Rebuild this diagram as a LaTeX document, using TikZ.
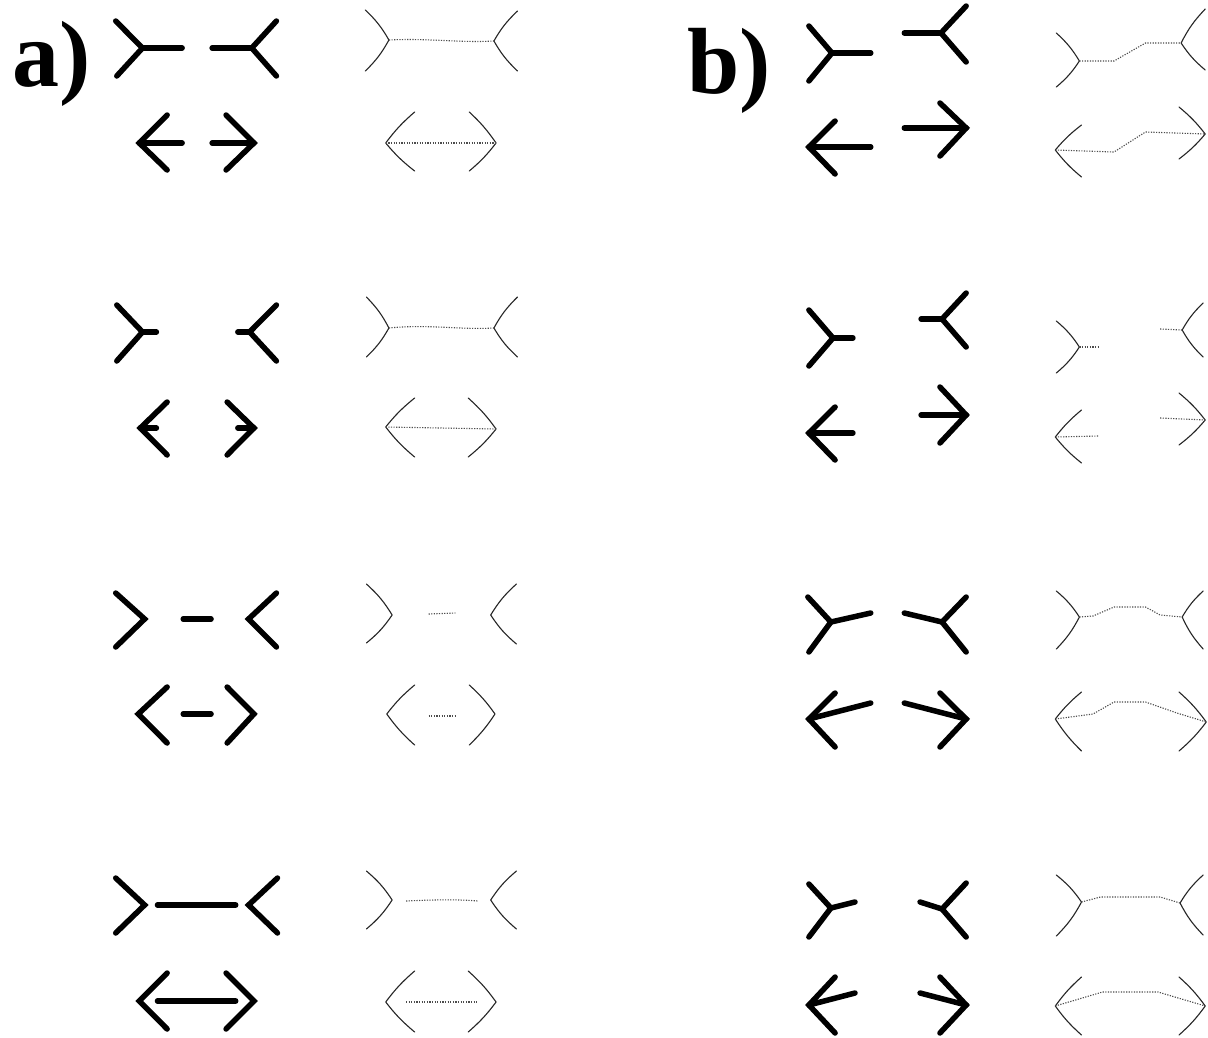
\documentclass[tikz,border=0pt]{standalone}
\usepackage{fontspec}
\setmainfont{Liberation Serif}
\begin{document}
\begin{tikzpicture}[x=1pt,y=-1pt,
  thk/.style={line width=5.5pt,black,line cap=round,line join=miter},
  thn/.style={line width=1.1pt,black!85,line cap=round,line join=round},
  dts/.style={line width=1.1pt,black!70,dash pattern=on 1.2pt off 1.4pt},
  lbl/.style={inner sep=0pt,anchor=base west,font=\fontsize{94}{94}\selectfont\bfseries}]
\useasboundingbox[fill=white] (0,0) rectangle (1208,1037);
% labels
\node[lbl] (la) at (12,86) {a)};
\node[lbl] (lb) at (687,93) {b)};
% ================= panel a =================
\begin{scope}[xscale=1.0714]
% row 1
\draw[thk] (108,21) -- (133,48) -- (109,76); \draw[thk] (133,48) -- (170,48);
\draw[thk] (258,21) -- (235,48) -- (258,76); \draw[thk] (198,48) -- (235,48);
\draw[thk] (156,115) -- (130,143) -- (156,170); \draw[thk] (130,143) -- (170,143);
\draw[thk] (211,115) -- (237,143) -- (211,170); \draw[thk] (198,143) -- (237,143);
\draw[thn] (341,10) to[bend left=8] (363,40) to[bend left=8] (341,71);
\draw[thn] (483,11) to[bend right=8] (461,41) to[bend right=8] (483,71);
\draw[dts] (363,40) .. controls (400,38) and (430,43) .. (461,41);
\draw[thn] (387,112) to[bend right=6] (360,143) to[bend right=6] (387,171);
\draw[thn] (438,112) to[bend left=6] (463,143) to[bend left=6] (438,171);
\draw[dts] (360,143) -- (463,143);
% row 2
\draw[thk] (109,305) -- (133,332) -- (109,361); \draw[thk] (133,332) -- (146,332);
\draw[thk] (258,305) -- (233,332) -- (258,361); \draw[thk] (222,332) -- (233,332);
\draw[thk] (156,402) -- (131,428) -- (156,455); \draw[thk] (131,428) -- (146,428);
\draw[thk] (212,402) -- (237,428) -- (212,455); \draw[thk] (222,428) -- (237,428);
\draw[thn] (342,297) to[bend left=8] (363,328) to[bend left=8] (342,357);
\draw[thn] (483,297) to[bend right=8] (461,328) to[bend right=8] (483,357);
\draw[dts] (363,328) .. controls (400,324) and (430,330) .. (461,328);
\draw[thn] (387,398) to[bend right=6] (360,427) to[bend right=6] (387,457);
\draw[thn] (437,398) to[bend left=6] (463,429) to[bend left=6] (437,457);
\draw[dts] (360,427) -- (463,429);
% row 3
\draw[thk] (108,593) -- (135,619) -- (108,647);
\draw[thk] (171,619) -- (197,619);
\draw[thk] (258,593) -- (232,619) -- (258,647);
\draw[thk] (156,687) -- (129,714) -- (156,743);
\draw[thk] (171,714) -- (197,714);
\draw[thk] (212,687) -- (237,714) -- (212,743);
\draw[thn] (342,584) to[bend left=8] (366,615) to[bend left=8] (342,643);
\draw[dts] (400,614) -- (425,613);
\draw[thn] (482,584) to[bend right=8] (458,615) to[bend right=8] (482,644);
\draw[thn] (387,685) to[bend right=6] (361,714) to[bend right=6] (387,745);
\draw[dts] (400,716) -- (426,716);
\draw[thn] (438,685) to[bend left=6] (462,714) to[bend left=6] (438,745);
% row 4
\draw[thk] (108,878) -- (135,905) -- (108,933);
\draw[thk] (147,905) -- (220,905);
\draw[thk] (259,878) -- (232,905) -- (259,933);
\draw[thk] (156,973) -- (130,1001) -- (156,1029);
\draw[thk] (147,1001) -- (220,1001);
\draw[thk] (211,973) -- (237,1001) -- (211,1029);
\draw[thn] (342,871) to[bend left=8] (366,900) to[bend left=8] (342,929);
\draw[dts] (379,901) .. controls (400,900) and (425,899) .. (446,901);
\draw[thn] (482,871) to[bend right=8] (458,900) to[bend right=8] (482,929);
\draw[thn] (387,971) to[bend right=6] (360,1002) to[bend right=6] (387,1032);
\draw[dts] (379,1002) -- (446,1002);
\draw[thn] (437,971) to[bend left=6] (463,1002) to[bend left=6] (437,1032);
\end{scope}
% ================= panel b =================
\begin{scope}[shift={(-32,0)},xscale=1.0485]
% row 1
\draw[thk] (802,26) -- (824,53) -- (802,81); \draw[thk] (824,53) -- (861,53);
\draw[thk] (952,6) -- (928,33) -- (952,62); \draw[thk] (893,33) -- (928,33);
\draw[thk] (827,121) -- (802,147) -- (827,174); \draw[thk] (802,147) -- (861,147);
\draw[thk] (927,103) -- (952,128) -- (927,156); \draw[thk] (893,128) -- (952,128);
\draw[thn] (1038,33) to[bend left=8] (1060,61) to[bend left=8] (1038,87);
\draw[thn] (1180,9) to[bend right=8] (1157,43) to[bend right=8] (1180,70);
\draw[dts] (1060,61) -- (1093,61) -- (1123,43) -- (1157,43);
\draw[thn] (1062,125) to[bend right=6] (1037,150) to[bend right=6] (1062,177);
\draw[thn] (1155,107) to[bend left=6] (1180,134) to[bend left=6] (1155,159);
\draw[dts] (1037,150) -- (1093,152) -- (1123,132) -- (1180,134);
% row 2
\draw[thk] (802,310) -- (825,338) -- (802,366); \draw[thk] (825,338) -- (844,338);
\draw[thk] (952,293) -- (929,319) -- (952,347); \draw[thk] (909,319) -- (929,319);
\draw[thk] (827,407) -- (802,433) -- (827,460); \draw[thk] (802,433) -- (844,433);
\draw[thk] (927,387) -- (952,415) -- (927,443); \draw[thk] (909,415) -- (952,415);
\draw[thn] (1038,321) to[bend left=8] (1060,347) to[bend left=8] (1038,373);
\draw[dts] (1060,347) -- (1078,347);
\draw[thn] (1178,303) to[bend right=8] (1158,330) to[bend right=8] (1178,357);
\draw[dts] (1137,329) -- (1158,330);
\draw[thn] (1062,410) to[bend right=6] (1037,437) to[bend right=6] (1062,463);
\draw[dts] (1037,437) -- (1078,436);
\draw[thn] (1155,393) to[bend left=6] (1180,420) to[bend left=6] (1155,445);
\draw[dts] (1137,418) -- (1180,420);
% row 3
\draw[thk] (801,597) -- (823,622) -- (802,652); \draw[thk] (823,622) -- (861,613);
\draw[thk] (952,597) -- (929,622) -- (952,652); \draw[thk] (893,613) -- (929,622);
\draw[thk] (827,693) -- (802,719) -- (827,747); \draw[thk] (802,719) -- (861,703);
\draw[thk] (927,693) -- (952,719) -- (927,747); \draw[thk] (893,703) -- (952,719);
\draw[thn] (1038,591) to[bend left=8] (1060,617) to[bend left=8] (1038,649);
\draw[thn] (1178,591) to[bend right=8] (1158,617) to[bend right=8] (1178,649);
\draw[dts] (1060,617) -- (1073,616) -- (1093,607) -- (1123,607) -- (1137,615) -- (1158,617);
\draw[thn] (1062,692) to[bend right=6] (1037,719) to[bend right=6] (1062,751);
\draw[thn] (1155,692) to[bend left=6] (1181,722) to[bend left=6] (1155,751);
\draw[dts] (1037,719) -- (1073,714) -- (1093,702) -- (1123,702) -- (1153,713) -- (1181,722);
% row 4
\draw[thk] (802,884) -- (823,908) -- (802,937); \draw[thk] (823,908) -- (846,902);
\draw[thk] (952,883) -- (929,909) -- (952,937); \draw[thk] (908,902) -- (929,909);
\draw[thk] (827,977) -- (802,1005) -- (827,1033); \draw[thk] (802,1005) -- (846,993);
\draw[thk] (927,977) -- (952,1005) -- (927,1033); \draw[thk] (908,993) -- (952,1005);
\draw[thn] (1038,875) to[bend left=8] (1062,902) to[bend left=8] (1038,936);
\draw[thn] (1178,875) to[bend right=8] (1156,903) to[bend right=8] (1178,935);
\draw[dts] (1062,902) -- (1080,897) -- (1137,897) -- (1156,903);
\draw[thn] (1062,977) to[bend right=6] (1037,1006) to[bend right=6] (1062,1035);
\draw[thn] (1155,977) to[bend left=6] (1180,1006) to[bend left=6] (1155,1035);
\draw[dts] (1037,1006) -- (1082,992) -- (1135,992) -- (1180,1006);
\end{scope}
\end{tikzpicture}
\end{document}
